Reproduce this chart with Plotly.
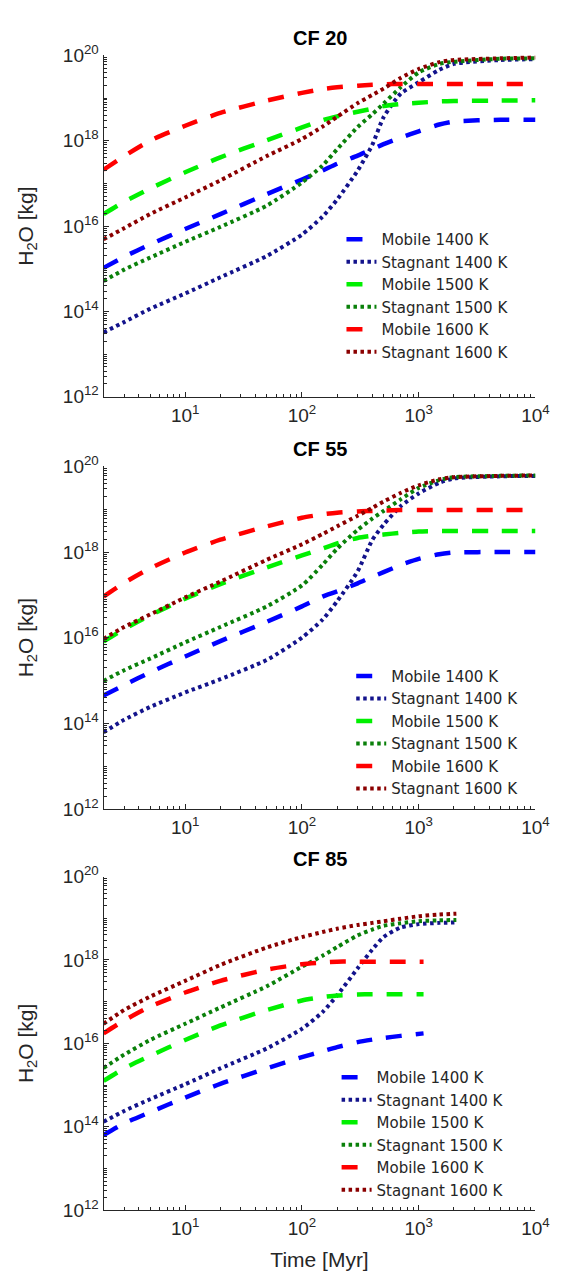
import plotly.graph_objects as go

# ---------------- data (log10 of H2O mass in kg) ----------------
T_FULL = [2, 3, 5, 10, 20, 50, 100, 150, 200, 300, 400, 500, 700, 1000, 1500, 2000, 5000, 10000]
T_MOB85 = [2, 3, 5, 10, 20, 50, 100, 150, 200, 300, 400, 500, 700, 1100]
T_STAG85 = [2, 3, 5, 10, 20, 50, 100, 150, 200, 300, 400, 500, 700, 1000, 1500, 2100]

cf20_mob1400 = [15.02, 15.28, 15.57, 15.93, 16.28, 16.75, 17.09, 17.30, 17.46, 17.65, 17.80, 17.92, 18.07, 18.22, 18.38, 18.45, 18.49, 18.49]
cf20_stag1400 = [13.51, 13.75, 14.06, 14.42, 14.80, 15.30, 15.80, 16.22, 16.62, 17.30, 17.90, 18.55, 19.10, 19.37, 19.66, 19.80, 19.89, 19.91]
cf20_mob1500 = [16.28, 16.57, 16.88, 17.26, 17.61, 18.01, 18.31, 18.48, 18.57, 18.68, 18.75, 18.81, 18.86, 18.89, 18.92, 18.93, 18.94, 18.95]
cf20_stag1500 = [14.71, 14.98, 15.26, 15.63, 15.98, 16.48, 17.02, 17.42, 17.80, 18.32, 18.62, 18.87, 19.25, 19.60, 19.80, 19.85, 19.92, 19.93]
cf20_mob1600 = [17.32, 17.64, 18.00, 18.35, 18.65, 18.94, 19.12, 19.21, 19.25, 19.29, 19.31, 19.32, 19.33, 19.33, 19.33, 19.33, 19.33, 19.33]
cf20_stag1600 = [15.69, 15.95, 16.28, 16.67, 17.07, 17.64, 18.04, 18.33, 18.56, 18.88, 19.07, 19.22, 19.47, 19.68, 19.84, 19.89, 19.93, 19.95]

cf55_mob1400 = [14.65, 14.89, 15.19, 15.56, 15.92, 16.37, 16.73, 16.96, 17.08, 17.27, 17.42, 17.53, 17.70, 17.84, 17.95, 17.99, 18.00, 18.00]
cf55_stag1400 = [13.79, 14.08, 14.38, 14.72, 15.03, 15.48, 16.00, 16.42, 16.85, 17.55, 18.28, 18.64, 19.07, 19.37, 19.62, 19.72, 19.77, 19.78]
cf55_mob1500 = [15.91, 16.20, 16.52, 16.91, 17.25, 17.64, 17.92, 18.08, 18.20, 18.33, 18.38, 18.41, 18.45, 18.48, 18.49, 18.49, 18.49, 18.49]
cf55_stag1500 = [14.99, 15.24, 15.51, 15.89, 16.25, 16.73, 17.22, 17.70, 18.08, 18.52, 18.78, 18.96, 19.23, 19.50, 19.68, 19.75, 19.78, 19.79]
cf55_mob1600 = [16.96, 17.28, 17.62, 17.99, 18.29, 18.60, 18.80, 18.88, 18.92, 18.95, 18.96, 18.97, 18.98, 18.98, 18.98, 18.98, 18.98, 18.98]
cf55_stag1600 = [15.97, 16.25, 16.54, 16.94, 17.31, 17.82, 18.18, 18.42, 18.60, 18.85, 19.03, 19.18, 19.38, 19.56, 19.70, 19.75, 19.78, 19.79]

cf85_mob1400 = [13.80, 14.08, 14.35, 14.70, 15.03, 15.40, 15.67, 15.81, 15.91, 16.03, 16.09, 16.13, 16.18, 16.24]
cf85_stag1400 = [14.12, 14.38, 14.66, 15.02, 15.40, 15.88, 16.35, 16.75, 17.15, 17.80, 18.25, 18.55, 18.78, 18.86, 18.89, 18.90]
cf85_mob1500 = [15.10, 15.40, 15.70, 16.08, 16.43, 16.80, 17.03, 17.11, 17.15, 17.17, 17.18, 17.18, 17.18, 17.18]
cf85_stag1500 = [15.41, 15.73, 16.08, 16.47, 16.86, 17.37, 17.84, 18.10, 18.31, 18.59, 18.73, 18.82, 18.88, 18.93, 18.95, 18.96]
cf85_mob1600 = [16.24, 16.55, 16.88, 17.22, 17.50, 17.77, 17.90, 17.94, 17.96, 17.96, 17.96, 17.96, 17.96, 17.96]
cf85_stag1600 = [16.47, 16.80, 17.12, 17.50, 17.88, 18.30, 18.55, 18.67, 18.75, 18.84, 18.89, 18.93, 18.99, 19.05, 19.09, 19.11]

SERIES_NAMES = ["Mobile 1400 K", "Stagnant 1400 K", "Mobile 1500 K",
                "Stagnant 1500 K", "Mobile 1600 K", "Stagnant 1600 K"]
PANEL_TITLES = ["CF 20", "CF 55", "CF 85"]
Y_TICK_EXP = [12, 14, 16, 18, 20]
X_TICK_EXP = [1, 2, 3, 4]

# ---------------- styling ----------------
COLORS = ["#0000FF", "#13138C", "#00F000", "#0A800A", "#FF0000", "#8B0000"]
TXT = "#262626"
FONT = "Liberation Sans, Arial, Helvetica, sans-serif"
LEG_FONT = "DejaVu Sans, Liberation Sans, sans-serif"
W, H = 561, 1275
X_DOM = [98 / W, 541 / W]
Y_DOMS = [[1 - 383 / H, 1 - 35 / H], [1 - 803 / H, 1 - 454 / H], [1 - 1212 / H, 1 - 872 / H]]
LEG_POS = [(342 / W, 1 - 206 / H), (352 / W, 1 - 651 / H), (337 / W, 1 - 1060 / H)]

panels = [
    [(T_FULL, cf20_mob1400), (T_FULL, cf20_stag1400), (T_FULL, cf20_mob1500),
     (T_FULL, cf20_stag1500), (T_FULL, cf20_mob1600), (T_FULL, cf20_stag1600)],
    [(T_FULL, cf55_mob1400), (T_FULL, cf55_stag1400), (T_FULL, cf55_mob1500),
     (T_FULL, cf55_stag1500), (T_FULL, cf55_mob1600), (T_FULL, cf55_stag1600)],
    [(T_MOB85, cf85_mob1400), (T_STAG85, cf85_stag1400), (T_MOB85, cf85_mob1500),
     (T_STAG85, cf85_stag1500), (T_MOB85, cf85_mob1600), (T_STAG85, cf85_stag1600)],
]

fig = go.Figure()
for p, series in enumerate(panels):
    ax = "" if p == 0 else str(p + 1)
    leg = "legend" if p == 0 else f"legend{p + 1}"
    for i, (t, logv) in enumerate(series):
        mobile = i % 2 == 0
        fig.add_trace(go.Scatter(
            x=t, y=[10.0 ** v for v in logv],
            mode="lines", name=SERIES_NAMES[i],
            xaxis="x" + ax, yaxis="y" + ax, legend=leg,
            line=dict(color=COLORS[i], width=4.5 if mobile else 4,
                      dash="16px,14px" if mobile else "3.5px,3.5px",
                      shape="spline", smoothing=0.6),
        ))

minor_y = [k * 10.0 ** n for n in range(12, 20) for k in range(2, 10)] + [10.0 ** n for n in (13, 15, 17, 19)]
minor_x = [k * 10.0 ** n for n in range(0, 4) for k in range(2, 10)]

layout = dict(
    width=W, height=H, paper_bgcolor="white", plot_bgcolor="white",
    margin=dict(l=0, r=0, t=0, b=0), showlegend=True,
    font=dict(family=FONT, color=TXT),
    annotations=[],
)
for p in range(3):
    ax = "" if p == 0 else str(p + 1)
    layout["xaxis" + ax] = dict(
        type="log", domain=X_DOM, anchor="y" + ax,
        range=[0.301, 4.0],
        tickvals=[10.0 ** e for e in X_TICK_EXP],
        ticktext=[f"10<sup>{e}</sup>" for e in X_TICK_EXP],
        ticks="inside", ticklen=5, tickwidth=1, tickcolor=TXT,
        minor=dict(tickvals=minor_x, ticks="inside", ticklen=3, tickcolor=TXT, showgrid=False),
        showline=True, linecolor=TXT, linewidth=1, mirror=False,
        showgrid=False, zeroline=False,
        tickfont=dict(size=19, family=FONT, color=TXT),
        ticklabelstandoff=1,
    )
    layout["yaxis" + ax] = dict(
        type="log", domain=Y_DOMS[p], anchor="x" + ax,
        range=[12, 20],
        tickvals=[10.0 ** e for e in Y_TICK_EXP],
        ticktext=[f"10<sup>{e}</sup>" for e in Y_TICK_EXP],
        ticks="inside", ticklen=5, tickwidth=1, tickcolor=TXT,
        minor=dict(tickvals=minor_y, ticks="inside", ticklen=3, tickcolor=TXT, showgrid=False),
        showline=True, linecolor=TXT, linewidth=1, mirror=False,
        showgrid=False, zeroline=False,
        tickfont=dict(size=19, family=FONT, color=TXT),
        title=dict(text="H<sub>2</sub>O [kg]", font=dict(size=21, family=FONT, color=TXT), standoff=23),
    )
    legname = "legend" if p == 0 else f"legend{p + 1}"
    lx, ly = LEG_POS[p]
    layout[legname] = dict(
        x=lx, y=ly, xanchor="left", yanchor="top",
        bgcolor="rgba(0,0,0,0)", borderwidth=0,
        font=dict(size=15, family=LEG_FONT, color=TXT),
        tracegroupgap=0,
    )
    layout["annotations"].append(dict(
        text=f"<b>{PANEL_TITLES[p]}</b>", xref="paper", yref="paper",
        x=(X_DOM[0] + X_DOM[1]) / 2, y=Y_DOMS[p][1] + 18 / H,
        xanchor="center", yanchor="middle", showarrow=False,
        font=dict(size=20, family=FONT, color="black"),
    ))

layout["xaxis3"]["title"] = dict(text="Time [Myr]", font=dict(size=21, family=FONT, color=TXT), standoff=14)

fig.update_layout(**layout)
fig.write_html("out.html")
